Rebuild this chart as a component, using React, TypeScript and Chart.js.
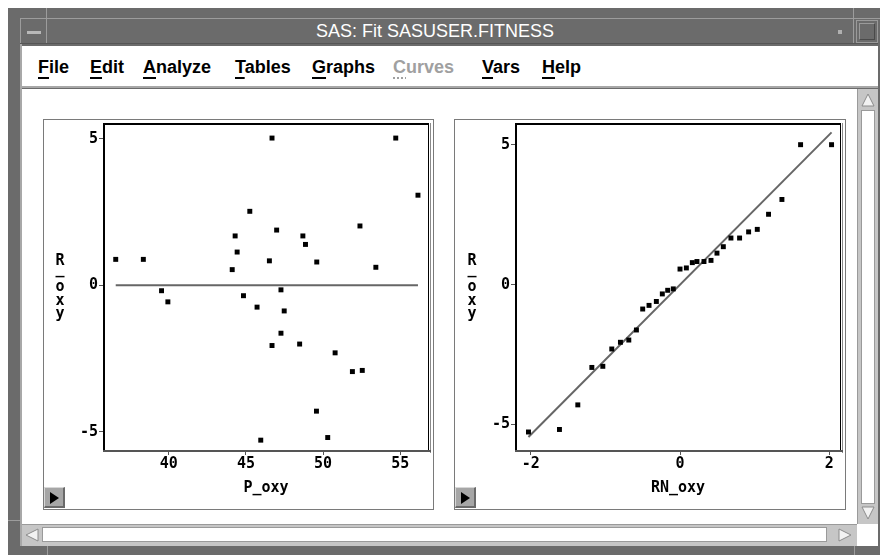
import React, { useEffect, useRef } from "react";
import { Chart, registerables } from "chart.js";
Chart.register(...registerables);

// ---- Data: residual vs predicted (left) ----
const predictedOxy = [36.56, 38.35, 39.53, 39.94, 44.11, 44.3, 44.43, 44.84, 45.25, 45.72, 46.52, 46.69, 46.99, 47.27, 47.48, 48.69, 48.86, 49.59, 52.39, 53.42, 54.71, 56.15, 47.27, 46.69, 48.48, 50.78, 51.9, 52.54, 49.57, 45.96, 50.3];
const residualOxy = [0.88, 0.88, -0.19, -0.57, 0.53, 1.68, 1.13, -0.36, 2.52, -0.75, 0.83, 5.02, 1.88, -0.16, -0.88, 1.68, 1.39, 0.79, 2.02, 0.61, 5.02, 3.07, -1.64, -2.06, -2.01, -2.31, -2.95, -2.91, -4.3, -5.29, -5.2];
const zeroLineX = [36.56, 56.15];
const zeroLineY = [0, 0];
const leftXTicks = [40, 45, 50, 55];
const leftYTicks = [-5, 0, 5];

// ---- Data: residual vs normal quantile (right) ----
const rankNormalOxy = [-2.03, -1.615, -1.369, -1.181, -1.034, -0.914, -0.798, -0.686, -0.584, -0.5, -0.415, -0.317, -0.237, -0.165, -0.09, 0.0, 0.085, 0.165, 0.227, 0.321, 0.415, 0.495, 0.58, 0.682, 0.798, 0.919, 1.035, 1.186, 1.365, 1.615, 2.03];
const sortedResidualOxy = [-5.27, -5.18, -4.3, -2.96, -2.92, -2.3, -2.06, -1.98, -1.62, -0.87, -0.74, -0.6, -0.33, -0.2, -0.15, 0.56, 0.6, 0.79, 0.83, 0.83, 0.87, 1.13, 1.36, 1.67, 1.67, 1.89, 1.98, 2.52, 3.05, 5.01, 5.01];
const qqLineX = [-2.03, 2.03];
const qqLineY = [-5.45, 5.45];
const rightXTicks = [-2, 0, 2];
const rightYTicks = [-5, 0, 5];

const menuItems = ["File", "Edit", "Analyze", "Tables", "Graphs", "Curves", "Vars", "Help"];
const menuX = [38, 90, 143, 235, 312, 393, 482, 542];
const windowTitle = "SAS: Fit SASUSER.FITNESS";

const MONO = '"DejaVu Sans Mono", monospace';

const framePlugin = {
  id: "sasFrame",
  afterDatasetsDraw(chart: any) {
    const { ctx, chartArea: a } = chart;
    ctx.save();
    const h = a.bottom - a.top;
    const w = a.right - a.left;
    ctx.fillStyle = "#000";
    ctx.fillRect(a.left - 1, a.top - 1, 2, h + 2);
    ctx.fillRect(a.left - 1, a.top - 1, w + 2, 2);
    ctx.fillRect(a.right, a.top - 1, 1, h + 2);
    ctx.fillStyle = "#8a8a8a";
    ctx.fillRect(a.right + 2, a.top - 1, 1, h + 3);
    ctx.fillStyle = "#555";
    ctx.fillRect(a.left - 1, a.bottom - 1, w + 4, 2);
    ctx.restore();
  },
  afterDraw(chart: any, _args: any, opts: any) {
    const { ctx, chartArea: a } = chart;
    ctx.save();
    ctx.fillStyle = "#000";
    ctx.font = `bold 15px ${MONO}`;
    ctx.textAlign = "center";
    ctx.textBaseline = "middle";
    ctx.fillText(opts.xTitle, (a.left + a.right) / 2, a.bottom + 37);
    const chars = String(opts.yTitle).split("");
    const offs = [141, 149.5, 167, 181, 194];
    ctx.textBaseline = "alphabetic";
    chars.forEach((c: string, i: number) => {
      ctx.fillText(c, a.left - 44, a.top + offs[i]);
    });
    ctx.restore();
  },
};

function makeConfig(p: any): any {
  return {
    type: "scatter",
    data: {
      datasets: [
        {
          data: p.px.map((x: number, i: number) => ({ x, y: p.py[i] })),
          backgroundColor: "#000",
          borderWidth: 0,
          pointStyle: "rect",
          pointRadius: 3.5,
          order: 1,
        },
        {
          data: p.lx.map((x: number, i: number) => ({ x, y: p.ly[i] })),
          showLine: true,
          borderColor: "#666",
          borderWidth: 2,
          pointRadius: 0,
          order: 2,
        },
      ],
    },
    options: {
      animation: false,
      responsive: false,
      devicePixelRatio: 1,
      events: [],
      layout: { padding: { top: 3, right: 3, left: 0, bottom: 0 } },
      plugins: {
        legend: { display: false },
        tooltip: { enabled: false },
        sasFrame: { xTitle: p.xTitle, yTitle: p.yTitle },
      },
      scales: {
        x: {
          type: "linear",
          min: p.xMin,
          max: p.xMax,
          afterBuildTicks: (s: any) => {
            s.ticks = p.xTicks.map((v: number) => ({ value: v }));
          },
          afterFit: (s: any) => {
            s.height = 57;
            s.paddingLeft = 0;
            s.paddingRight = 0;
            s.paddingTop = 0;
            s.paddingBottom = 0;
          },
          ticks: {
            color: "#000",
            font: { family: MONO, size: 15, weight: "bold" },
            padding: 0,
            maxRotation: 0,
            autoSkip: false,
          },
          grid: { drawOnChartArea: false, drawTicks: true, tickLength: 4, color: "#555", lineWidth: 1 },
          border: { display: false },
        },
        y: {
          type: "linear",
          min: p.yMin,
          max: p.yMax,
          afterBuildTicks: (s: any) => {
            s.ticks = p.yTicks.map((v: number) => ({ value: v }));
          },
          afterFit: (s: any) => {
            s.width = p.yWidth;
            s.paddingTop = 0;
            s.paddingBottom = 0;
            s.paddingLeft = 0;
            s.paddingRight = 0;
          },
          ticks: {
            color: "#000",
            font: { family: MONO, size: 15, weight: "bold" },
            padding: 1,
            autoSkip: false,
            callback: (v: number) => (v < 0 ? "-" + Math.abs(v) : String(v)),
          },
          grid: { drawOnChartArea: false, drawTicks: true, tickLength: 5, color: "#555", lineWidth: 1 },
          border: { display: false },
        },
      },
    },
    plugins: [framePlugin],
  };
}

function ScatterPanel(props: any) {
  const ref = useRef<HTMLCanvasElement>(null);
  useEffect(() => {
    const chart = new Chart(ref.current as HTMLCanvasElement, makeConfig(props.cfg));
    return () => chart.destroy();
  }, []);
  return (
    <canvas
      ref={ref}
      width={props.w}
      height={props.h}
      style={{ position: "absolute", left: props.x, top: props.y, width: props.w, height: props.h }}
    />
  );
}

const abs = (l: number, t: number, w: number, h: number, extra: any = {}) => ({
  position: "absolute" as const,
  left: l,
  top: t,
  width: w,
  height: h,
  boxSizing: "border-box" as const,
  ...extra,
});

function Arrow({ dir, x, y }: { dir: string; x: number; y: number }) {
  const pts: Record<string, string> = {
    up: "7,1 13,13 1,13",
    down: "1,1 13,1 7,13",
    left: "1,7 13,1 13,13",
    right: "1,1 13,7 1,13",
  };
  return (
    <svg style={{ position: "absolute", left: x, top: y }} width={14} height={14}>
      <polygon points={pts[dir]} fill="#f2f2f2" stroke="#8c8c8c" strokeWidth={1} />
    </svg>
  );
}

function PanelButton({ x, y }: { x: number; y: number }) {
  return (
    <div
      style={abs(x, y, 21, 21, {
        background: "#a6a6a6",
        borderTop: "1px solid #d8d8d8",
        borderLeft: "1px solid #d8d8d8",
        borderRight: "2px solid #6a6a6a",
        borderBottom: "2px solid #6a6a6a",
        zIndex: 2,
      })}
    >
      <svg style={{ position: "absolute", left: 5, top: 4 }} width={10} height={12}>
        <polygon points="0,0 9,6 0,12" fill="#000" />
      </svg>
    </div>
  );
}

export default function App() {
  const leftCfg = {
    px: predictedOxy, py: residualOxy, lx: zeroLineX, ly: zeroLineY,
    xMin: 35.8, xMax: 56.8, yMin: -5.66, yMax: 5.5,
    xTicks: leftXTicks, yTicks: leftYTicks, yWidth: 60,
    xTitle: "P_oxy", yTitle: "R_oxy",
  };
  const rightCfg = {
    px: rankNormalOxy, py: sortedResidualOxy, lx: qqLineX, ly: qqLineY,
    xMin: -2.197, xMax: 2.143, yMin: -5.95, yMax: 5.75,
    xTicks: rightXTicks, yTicks: rightYTicks, yWidth: 61,
    xTitle: "RN_oxy", yTitle: "R_oxy",
  };
  const frame = "#6b6b6b";
  const light = "#9c9c9c";
  const sb = "#c6c6c6";
  return (
    <div style={{ position: "fixed", left: 0, top: 0, width: 880, height: 555, background: "#fff", overflow: "hidden" }}>
      {/* outer frame */}
      <div style={abs(8, 8, 872, 547, { background: frame })} />
      <div style={abs(20, 18, 860, 1, { background: light })} />
      <div style={abs(46, 8, 1, 36, { background: light })} />
      <div style={abs(853, 8, 1, 36, { background: light })} />
      <div style={abs(20, 18, 1, 26, { background: light })} />
      {/* title bar */}
      <div style={abs(20, 43, 858, 1, { background: "#555" })} />
      <div style={abs(27, 31, 14, 3, { background: "#b8b8b8" })} />
      <div
        style={abs(100, 20, 670, 23, {
          color: "#fff",
          fontFamily: '"Liberation Sans", Arial, sans-serif',
          fontSize: 18,
          lineHeight: "23px",
          textAlign: "center",
        })}
      >
        {windowTitle}
      </div>
      <div style={abs(838, 30, 4, 4, { background: "#b0b0b0" })} />
      <div style={abs(856, 20, 22, 23, { border: "1px solid #9a9a9a" })} />
      <div style={abs(859, 23, 16, 17, { borderTop: "1px solid #9a9a9a", borderLeft: "1px solid #9a9a9a", borderRight: "1px solid #4a4a4a", borderBottom: "1px solid #4a4a4a" })} />
      {/* left inner strip */}
      <div style={abs(20, 44, 2, 502, { background: "#a8a8a8" })} />
      <div style={abs(8, 520, 12, 1, { background: light })} />
      {/* menu bar */}
      <div style={abs(22, 46, 856, 42, { background: "#fff", borderBottom: "2px solid #a8a8a8" })} />
      {menuItems.map((m, i) => (
        <div
          key={m}
          style={abs(menuX[i], 56, 90, 24, {
            fontFamily: '"Liberation Sans", Arial, sans-serif',
            fontSize: 18,
            fontWeight: "bold",
            lineHeight: "22px",
            color: m === "Curves" ? "#a0a0a0" : "#000",
            whiteSpace: "nowrap",
          })}
        >
          <span
            style={{
              textDecoration: "underline",
              textDecorationStyle: m === "Curves" ? "dotted" : "solid",
              textUnderlineOffset: "4px",
              textDecorationThickness: "2px",
            }}
          >
            {m[0]}
          </span>
          {m.slice(1)}
        </div>
      ))}
      {/* content area */}
      <div style={abs(22, 89, 835, 435, { background: "#fff" })} />
      {/* panels */}
      <div style={abs(43, 119, 391, 391, { border: "1px solid #7a7a7a", background: "#fff" })} />
      <div style={abs(454, 119, 392, 391, { border: "1px solid #7a7a7a", background: "#fff" })} />
      <ScatterPanel x={44} y={120} w={388} h={388} cfg={leftCfg} />
      <ScatterPanel x={455} y={120} w={389} h={388} cfg={rightCfg} />
      <PanelButton x={44} y={487} />
      <PanelButton x={455} y={487} />
      {/* vertical scrollbar */}
      <div style={abs(857, 89, 21, 435, { background: sb, borderLeft: "1px solid #9a9a9a" })} />
      <Arrow dir="up" x={861} y={93} />
      <div style={abs(861, 110, 14, 394, { background: "#fff", border: "1px solid #9a9a9a" })} />
      <Arrow dir="down" x={861} y={506} />
      {/* horizontal scrollbar */}
      <div style={abs(22, 524, 835, 22, { background: sb, borderTop: "1px solid #9a9a9a" })} />
      <Arrow dir="left" x={25} y={528} />
      <div style={abs(42, 527, 785, 15, { background: "#fff", border: "1px solid #9a9a9a" })} />
      <Arrow dir="right" x={838} y={528} />
      <div style={abs(857, 524, 21, 22, { background: "#fff" })} />
      {/* bottom frame lines */}
      <div style={abs(47, 546, 1, 9, { background: light })} />
      <div style={abs(854, 546, 1, 9, { background: light })} />
    </div>
  );
}
